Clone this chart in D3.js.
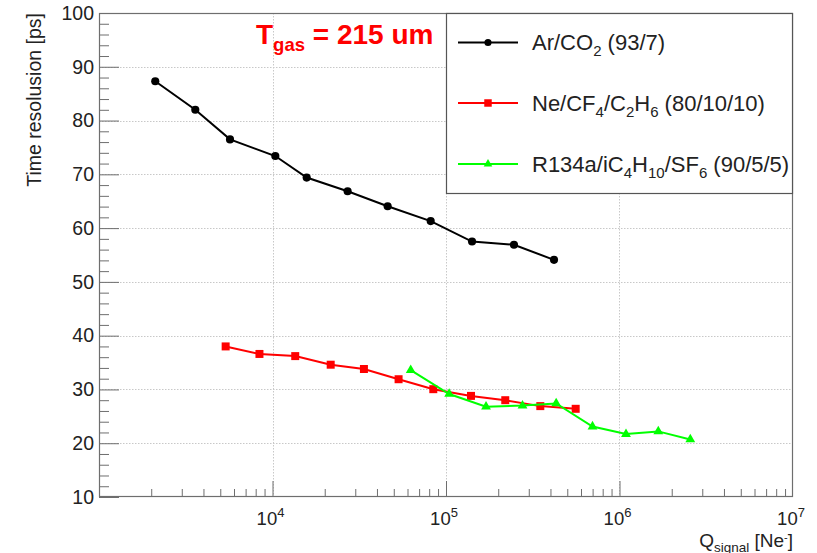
<!DOCTYPE html>
<html>
<head>
<meta charset="utf-8">
<script src="https://cdn.jsdelivr.net/npm/d3@7"></script>
<style>
  html, body { margin: 0; padding: 0; background: #fff; }
  svg { display: block; font-family: "Liberation Sans", Arial, Helvetica, sans-serif; }
</style>
</head>
<body>
<svg id="chart" width="817" height="553"></svg>
<script>
// ---- data ----
const arCO2_q   = [2110, 3590, 5690, 10380, 15740, 27100, 46100, 81600, 141300, 246500, 419300];
const arCO2_t   = [87.3, 82.0, 76.5, 73.4, 69.4, 66.85, 64.06, 61.3, 57.5, 56.9, 54.1];
const neCF4_q   = [5370, 8410, 13520, 21650, 33650, 53300, 84500, 139300, 219600, 349600, 559000];
const neCF4_t   = [38.0, 36.6, 36.2, 34.6, 33.8, 31.9, 30.05, 28.8, 28.0, 26.9, 26.4];
const r134a_q   = [62600, 104300, 170100, 276000, 431500, 698900, 1090000, 1673000, 2559000];
const r134a_t   = [33.6, 29.15, 26.8, 27.0, 27.4, 23.1, 21.7, 22.2, 20.7];
const xMajorTicks = [1e4, 1e5, 1e6, 1e7];
const xTickExponents = ["4", "5", "6", "7"];
const yMajorTicks = [10, 20, 30, 40, 50, 60, 70, 80, 90, 100];
const seriesNames = ["Ar/CO2 (93/7)", "Ne/CF4/C2H6 (80/10/10)", "R134a/iC4H10/SF6 (90/5/5)"];
const seriesColors = ["#000000", "#ff0000", "#00ff00"];

// ---- layout ----
const L = 99, R = 793, T = 13, B = 497;
const svg = d3.select("#chart");
const x = d3.scaleLog().domain([1e3, 1e7]).range([L, R]);
const y = d3.scaleLinear().domain([10, 100]).range([B, T]);

// grid
const grid = svg.append("g").attr("stroke", "#c8c8c8").attr("stroke-width", 1).attr("stroke-dasharray", "1.5,1.5");
grid.selectAll("line.gx").data([1e4, 1e5, 1e6]).join("line")
  .attr("x1", d => Math.round(x(d)) + 0.5).attr("x2", d => Math.round(x(d)) + 0.5)
  .attr("y1", T).attr("y2", B);
grid.selectAll("line.gy").data(yMajorTicks.filter(v => v > 10 && v < 100)).join("line")
  .attr("x1", L).attr("x2", R)
  .attr("y1", d => Math.round(y(d)) + 0.5).attr("y2", d => Math.round(y(d)) + 0.5);

// minor tick values
const xMinor = [];
for (let e = 3; e < 7; e++) for (let m = 2; m <= 9; m++) xMinor.push(m * Math.pow(10, e));
const yMinor = [];
for (let v = 10; v < 100; v += 2) if (v % 10 !== 0) yMinor.push(v);

const axisColor = "#6e6e6e";
// x axis
const gx = svg.append("g").attr("transform", `translate(0,${B})`);
gx.call(d3.axisBottom(x).tickValues(xMajorTicks.slice(0, 3)).tickSize(-16).tickFormat(""));
gx.append("g").call(d3.axisBottom(x).tickValues(xMinor).tickSize(-8).tickFormat(""));
gx.selectAll(".domain").remove();
gx.selectAll("line").attr("stroke", axisColor);

// y axis
const gy = svg.append("g").attr("transform", `translate(${L},0)`);
gy.call(d3.axisLeft(y).tickValues(yMajorTicks).tickSize(-20).tickPadding(5).tickFormat(d3.format("d")));
gy.append("g").call(d3.axisLeft(y).tickValues(yMinor).tickSize(-10).tickFormat(""));
gy.selectAll(".domain").remove();
gy.selectAll("line").attr("stroke", axisColor);
gy.selectAll("text").attr("font-size", 19.5).attr("fill", "#222").attr("font-family", null);

// frame
svg.append("rect").attr("x", L + 0.5).attr("y", T + 0.5).attr("width", R - L - 1).attr("height", B - T - 1)
  .attr("fill", "none").attr("stroke", axisColor).attr("stroke-width", 1.2);

// x tick labels (10^n)
xMajorTicks.forEach((v, i) => {
  const t = svg.append("text").attr("x", x(v) - 2).attr("y", 524.5)
    .attr("text-anchor", "middle").attr("font-size", 18.5).attr("fill", "#222");
  t.append("tspan").text("10");
  t.append("tspan").attr("dy", -8).attr("font-size", 13).text(xTickExponents[i]);
});

// axis titles
const xt = svg.append("text").attr("x", R).attr("y", 546.5).attr("text-anchor", "end")
  .attr("font-size", 19).attr("fill", "#222");
xt.append("tspan").text("Q");
xt.append("tspan").attr("dy", 5).attr("font-size", 13.5).text("signal");
xt.append("tspan").attr("dy", -5).text(" [Ne");
xt.append("tspan").attr("dy", -6).attr("font-size", 11).text("-");
xt.append("tspan").attr("dy", 6).text("]");

svg.append("text").attr("transform", `translate(41,${T}) rotate(-90)`)
  .attr("text-anchor", "end").attr("font-size", 19.5).attr("fill", "#222")
  .text("Time resolusion [ps]");

// series
const series = [
  { q: arCO2_q, t: arCO2_t, shape: "circle" },
  { q: neCF4_q, t: neCF4_t, shape: "square" },
  { q: r134a_q, t: r134a_t, shape: "triangle" }
];
const symbolFor = s => s === "circle" ? d3.symbol(d3.symbolCircle, 52)
  : s === "square" ? d3.symbol(d3.symbolSquare, 64) : d3.symbol(d3.symbolTriangle, 42);
const line = d3.line().x(d => x(d[0])).y(d => y(d[1]));

series.forEach((s, i) => {
  const pts = s.q.map((q, k) => [q, s.t[k]]);
  const g = svg.append("g");
  g.append("path").attr("d", line(pts)).attr("fill", "none")
    .attr("stroke", seriesColors[i]).attr("stroke-width", 2);
  g.selectAll("path.m").data(pts).join("path").attr("class", "m")
    .attr("transform", d => `translate(${x(d[0])},${y(d[1])})`)
    .attr("d", symbolFor(s.shape)()).attr("fill", seriesColors[i]);
});

// title
const tt = svg.append("text").attr("x", 256).attr("y", 44).attr("font-size", 28)
  .attr("font-weight", "bold").attr("fill", "#ff0000");
tt.append("tspan").text("T");
tt.append("tspan").attr("dy", 7).attr("font-size", 18.5).text("gas");
tt.append("tspan").attr("dy", -7).text(" = 215 um");

// legend
const lg = svg.append("g");
lg.append("rect").attr("x", 446.5).attr("y", T + 0.5).attr("width", R - 446.5 - 0.5).attr("height", 193 - T)
  .attr("fill", "#fff").attr("stroke", "#555").attr("stroke-width", 1.2);
const legendRows = [
  { y: 42.5, parts: [["Ar/CO", 0], ["2", 1], [" (93/7)", 0]] },
  { y: 103, parts: [["Ne/CF", 0], ["4", 1], ["/C", 0], ["2", 1], ["H", 0], ["6", 1], [" (80/10/10)", 0]] },
  { y: 164, parts: [["R134a/iC", 0], ["4", 1], ["H", 0], ["10", 1], ["/SF", 0], ["6", 1], [" (90/5/5)", 0]] }
];
const legendSymbol = [d3.symbol(d3.symbolCircle, 40), d3.symbol(d3.symbolSquare, 56), d3.symbol(d3.symbolTriangle, 32)];
legendRows.forEach((row, i) => {
  lg.append("line").attr("x1", 458).attr("x2", 518).attr("y1", row.y).attr("y2", row.y)
    .attr("stroke", seriesColors[i]).attr("stroke-width", 2);
  lg.append("path").attr("transform", `translate(488,${row.y})`).attr("d", legendSymbol[i]())
    .attr("fill", seriesColors[i]);
  const t = lg.append("text").attr("x", 532).attr("y", row.y + 7.5).attr("font-size", 22).attr("fill", "#222");
  let sub = 0;
  row.parts.forEach(([txt, isSub]) => {
    const dy = isSub && !sub ? 6 : (!isSub && sub ? -6 : 0);
    const ts = t.append("tspan").attr("dy", dy).text(txt);
    if (isSub) ts.attr("font-size", 15);
    sub = isSub;
  });
});
</script>
</body>
</html>
